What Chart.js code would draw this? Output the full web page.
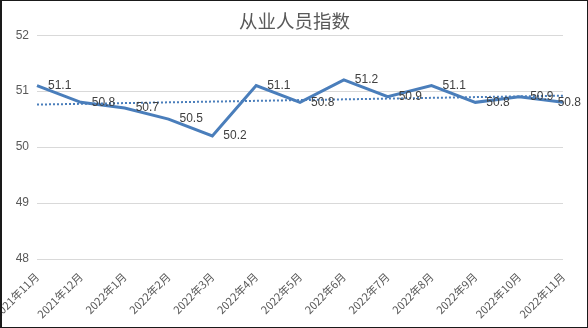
<!DOCTYPE html>
<html>
<head>
<meta charset="utf-8">
<script src="https://cdn.jsdelivr.net/npm/chart.js@4"></script>
<style>
  html, body { margin: 0; padding: 0; background: #fff; }
  #box { width: 588px; height: 328px; box-sizing: border-box; border: 1px solid #1a1a1a; border-left-width: 2px; position: relative; }
</style>
</head>
<body>
<div id="box"><canvas id="myChart"></canvas></div>
<script>
  "use strict";

  var months = ["2021年11月", "2021年12月", "2022年1月", "2022年2月", "2022年3月", "2022年4月", "2022年5月",
    "2022年6月", "2022年7月", "2022年8月", "2022年9月", "2022年10月", "2022年11月"];
  var employment = [51.1, 50.8, 50.7, 50.5, 50.2, 51.1, 50.8, 51.2, 50.9, 51.1, 50.8, 50.9, 50.8];
  // dotted linear trend line at both ends
  var trendEnds = [50.76, 50.92];
  var yTicks = [48, 49, 50, 51, 52];

  var lineColor = "#4a7ebb";
  var textGrey = "#595959";

  /*Value labels to the right of each point*/
  var valueLabels = {
    id: "valueLabels",
    afterDatasetsDraw: function (chart) {
      var ctx = chart.ctx;
      var meta = chart.getDatasetMeta(0);
      ctx.save();
      ctx.font = "12px 'Liberation Sans', Arial, sans-serif";
      ctx.fillStyle = "#404040";
      ctx.textAlign = "left";
      ctx.textBaseline = "middle";
      meta.data.forEach(function (pt, i) {
        var txt = employment[i].toFixed(1);
        var x = Math.min(pt.x + 11, chart.width - 6 - ctx.measureText(txt).width);
        ctx.fillText(txt, x, pt.y);
      });
      ctx.restore();
    }
  };

  if (document.getElementById("myChart")) {
    var ctx = document.getElementById("myChart").getContext("2d");
    var chart = new Chart(ctx, {
      type: "line",
      data: {
        labels: months,
        datasets: [
          {
            label: "从业人员指数",
            data: employment,
            borderColor: lineColor,
            borderWidth: 3,
            tension: 0,
            pointRadius: 0,
            fill: false,
            order: 1,
          },
          {
            label: "趋势",
            data: [
              { x: months[0], y: trendEnds[0] },
              { x: months[months.length - 1], y: trendEnds[1] },
            ],
            borderColor: lineColor,
            borderWidth: 2,
            borderDash: [2, 2],
            pointRadius: 0,
            fill: false,
            order: 2,
          },
        ],
      },
      options: {
        responsive: true,
        maintainAspectRatio: false,
        animation: false,
        layout: { padding: 0 },
        plugins: {
          legend: { display: false },
          tooltip: { enabled: false },
          title: {
            display: true,
            text: "从业人员指数",
            color: textGrey,
            font: { family: "'Noto Sans CJK SC', sans-serif", size: 18.5, weight: "normal" },
            padding: { top: 9, bottom: 3 },
          },
        },
        scales: {
          x: {
            offset: false,
            grid: { display: false, drawTicks: false },
            border: { display: false },
            ticks: {
              color: textGrey,
              font: { family: "'Noto Sans CJK SC', sans-serif", size: 11 },
              minRotation: 45,
              maxRotation: 45,
              autoSkip: false,
              padding: 11,
            },
            afterFit: function (scale) {
              scale.height = 68;
              scale.paddingLeft = 0;
              scale.paddingRight = 24; // room on the right of the plot
            },
          },
          y: {
            min: 48,
            max: 52,
            afterBuildTicks: function (scale) {
              scale.ticks = yTicks.map(function (v) { return { value: v }; });
            },
            grid: { color: "#d9d9d9", drawTicks: false },
            border: { display: false },
            ticks: {
              color: textGrey,
              font: { family: "'Liberation Sans', Arial, sans-serif", size: 12 },
              padding: 8,
            },
            afterFit: function (scale) { scale.width = 35; },
          },
        },
      },
      plugins: [valueLabels],
    });
  }
</script>
</body>
</html>
